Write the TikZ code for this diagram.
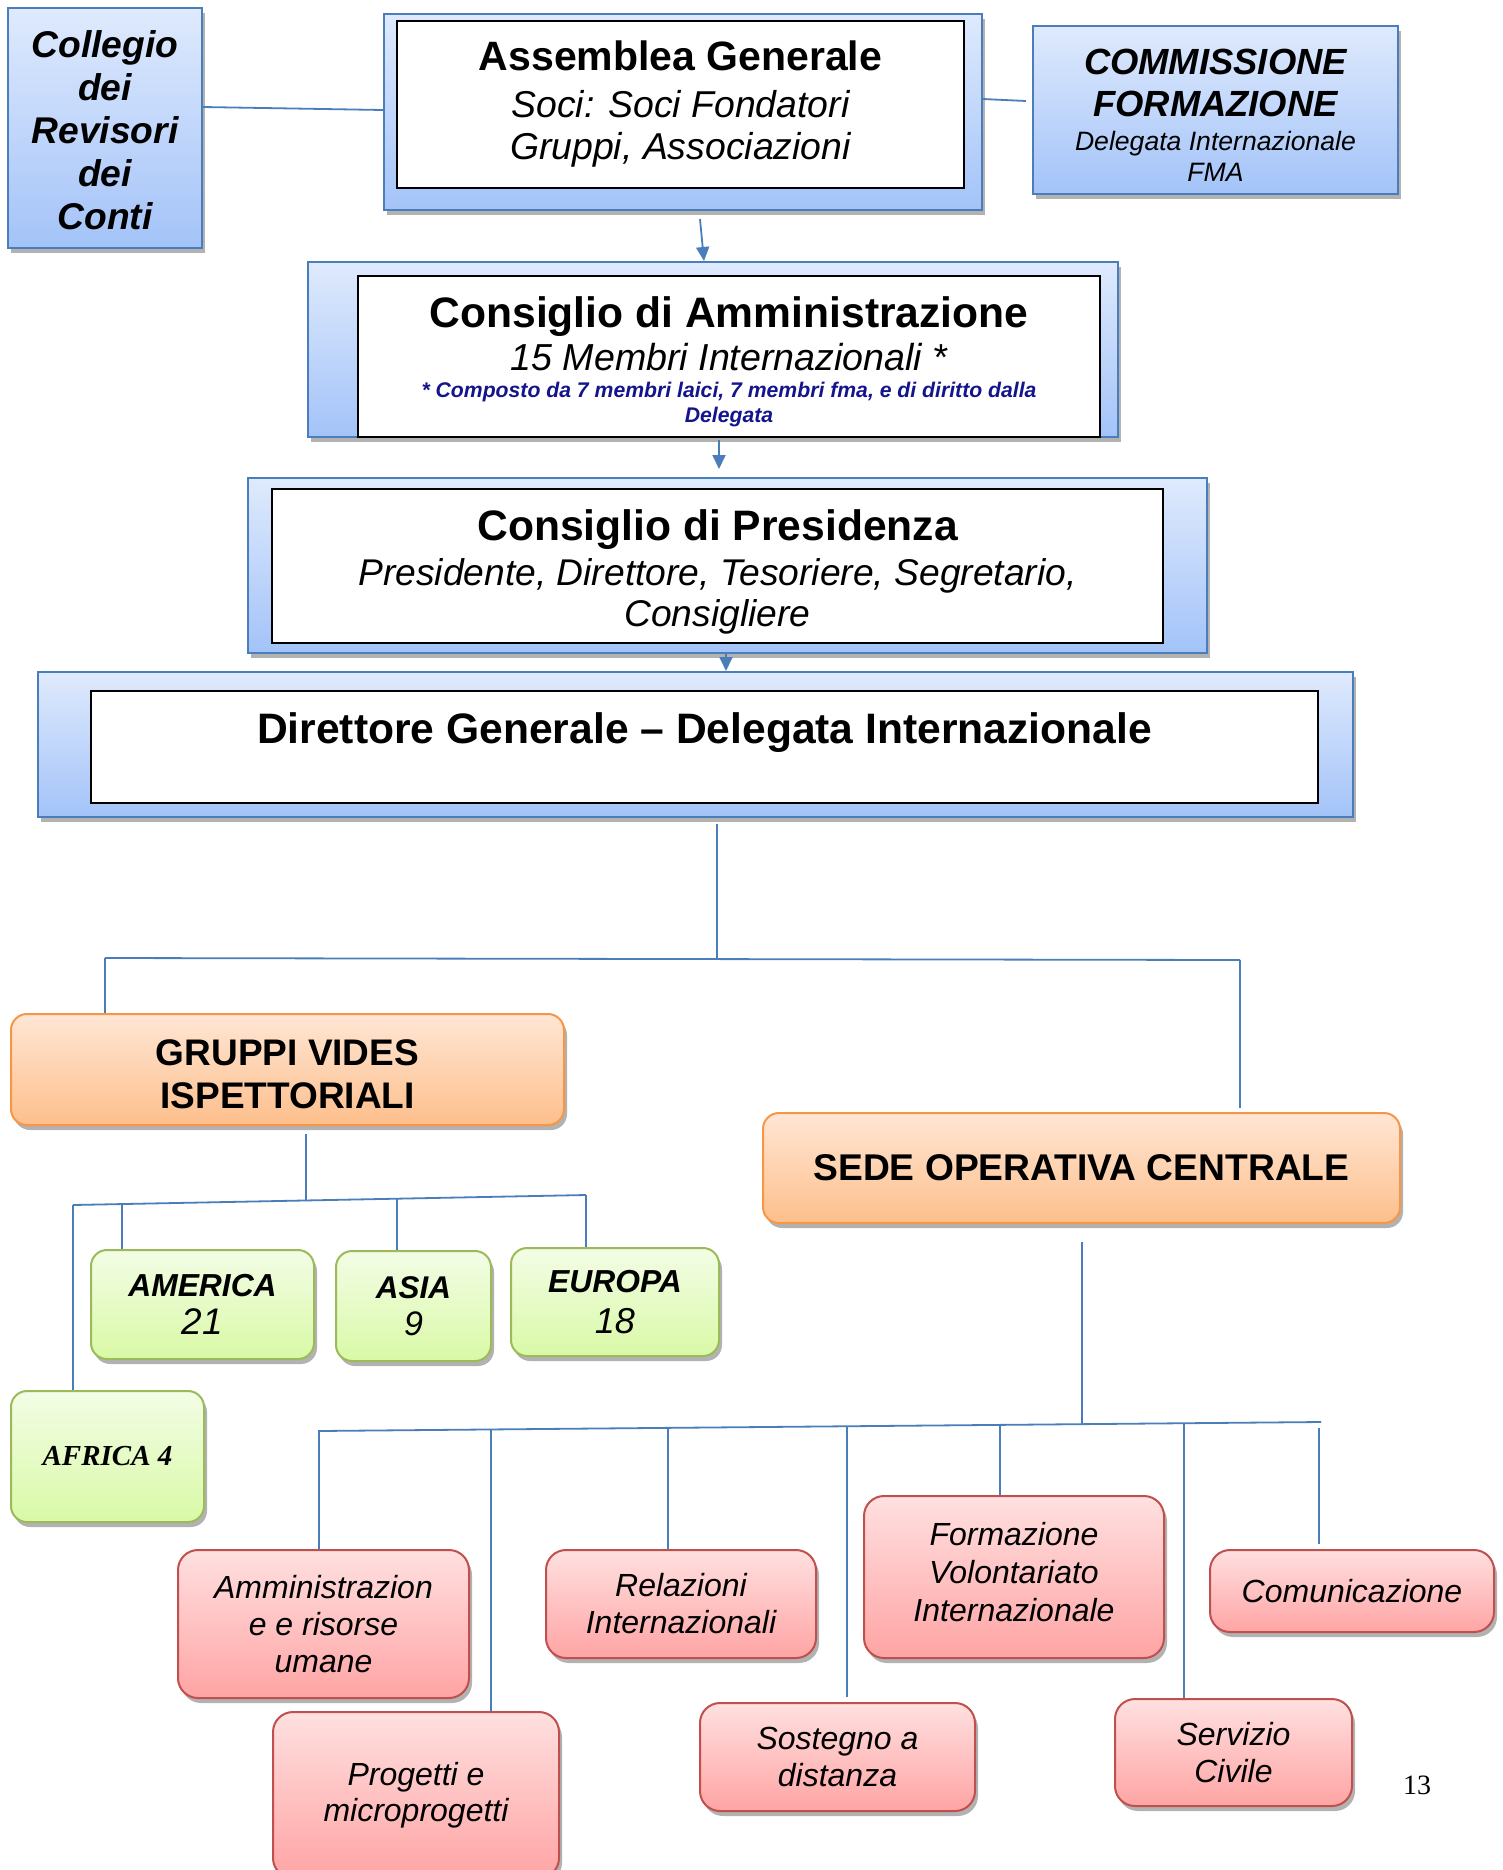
\documentclass[tikz,border=0pt]{standalone}
\usepackage{fontspec}
\setmainfont{Liberation Sans}
\newfontfamily\serifont{Liberation Serif}
\usetikzlibrary{arrows.meta,shadows}
\definecolor{cblue}{HTML}{4A7EBB}
\definecolor{btop}{HTML}{DFEAFD}
\definecolor{bbot}{HTML}{A3C3F8}
\definecolor{otop}{HTML}{FFE6D4}
\definecolor{obot}{HTML}{FDBF8C}
\definecolor{oborder}{HTML}{F79646}
\definecolor{gtop}{HTML}{F3FDE6}
\definecolor{gbot}{HTML}{D9F9A6}
\definecolor{gborder}{HTML}{9BBB59}
\definecolor{ptop}{HTML}{FFE0E0}
\definecolor{pbot}{HTML}{FFA4A4}
\definecolor{pborder}{HTML}{C0504D}
\definecolor{navyt}{HTML}{14148C}
\newcommand\fs[2]{\fontsize{#1}{#2}\selectfont}
\tikzset{
  shad/.style={drop shadow={shadow xshift=1.5pt,shadow yshift=-2.5pt,opacity=0.3,fill=black}},
  bluebox/.style={shad,draw=cblue,line width=1pt,top color=btop,bottom color=bbot,inner sep=0pt,align=center},
  whitebox/.style={draw=black,line width=1.3pt,fill=white,inner sep=0pt,align=center},
  obox/.style={shad,rounded corners=8pt,draw=oborder,line width=1pt,top color=otop,bottom color=obot,inner sep=0pt,align=center},
  gbox/.style={shad,rounded corners=8pt,draw=gborder,line width=1pt,top color=gtop,bottom color=gbot,inner sep=0pt,align=center},
  pbox/.style={shad,rounded corners=10pt,draw=pborder,line width=1pt,top color=ptop,bottom color=pbot,inner sep=0pt,align=center,font=\itshape\fs{16}{18.5}},
  txt/.style={inner sep=0pt,align=center},
  conn/.style={draw=cblue,line width=0.9pt},
  arr/.style={conn,-{Triangle[length=7pt,width=6.5pt]}},
}
\begin{document}
\begin{tikzpicture}[x=0.5pt,y=-0.5pt]
\fill[white] (0,0) rectangle (1503,1870);
\useasboundingbox (0,0) rectangle (1503,1870);

% top row
\node[bluebox,minimum width=97pt,minimum height=120pt] (coll) at (105,128) {};
\node[txt,font=\bfseries\itshape\fs{18.6}{21.5}] (colltext) at (105,130.5)
  {Collegio\\dei\\Revisori\\dei\\Conti};
\node[bluebox,minimum width=299pt,minimum height=98pt] (assout) at (683,112) {};
\node[whitebox,minimum width=283.5pt,minimum height=83.5pt,font=\itshape\fs{18.7}{21}] (ass) at (680.5,104.5)
  {{\upshape\bfseries\fs{20.5}{21}Assemblea Generale}\\[2.5pt]
   Soci: Soci Fondatori\\
   Gruppi, Associazioni};
\node[bluebox,minimum width=182.5pt,minimum height=84pt] (comm) at (1215.5,110) {};
\node[txt,font=\bfseries\itshape\fs{18.2}{20.5}] (commtext) at (1215.5,115)
  {COMMISSIONE\\[0.5pt]
   FORMAZIONE\\[-3.5pt]
   {\mdseries\fs{13.3}{15.5}Delegata Internazionale}\\[-5pt]
   {\mdseries\fs{13.3}{15.5}FMA}};

% consiglio di amministrazione
\node[bluebox,minimum width=405pt,minimum height=87.5pt] (cdaout) at (713,349.5) {};
\node[whitebox,minimum width=371pt,minimum height=80.5pt] (cda) at (729,356.5) {};
\node[txt,font=\itshape\fs{18.8}{23}] (cdatext) at (729,361.5)
  {{\upshape\bfseries\fs{21.3}{23}Consiglio di Amministrazione}\\[-1.4pt]
   15 Membri Internazionali *\\[-9.5pt]
   {\bfseries\color{navyt}\fs{10.6}{12.5}* Composto da 7 membri laici, 7 membri fma, e di diritto dalla}\\[-10.5pt]
   {\bfseries\color{navyt}\fs{10.6}{12.5}Delegata}};

% consiglio di presidenza
\node[bluebox,minimum width=479.5pt,minimum height=87.5pt] (cdpout) at (727.5,565.5) {};
\node[whitebox,minimum width=445.5pt,minimum height=77pt] (cdp) at (717.5,566) {};
\node[txt,font=\itshape\fs{18.6}{20.5}] (cdptext) at (717.5,572)
  {{\upshape\bfseries\fs{21.3}{20.5}Consiglio di Presidenza}\\[2.3pt]
   Presidente, Direttore, Tesoriere, Segretario,\\
   Consigliere};

% direttore generale
\node[bluebox,minimum width=657.5pt,minimum height=72.5pt] (dgout) at (695.5,744.5) {};
\node[whitebox,minimum width=613.5pt,minimum height=56pt] (dg) at (704.5,747) {};
\node[txt,font=\bfseries\fs{21.3}{25}] (dgtext) at (704.5,732.5) {Direttore Generale -- Delegata Internazionale};

% arrows
\draw[arr] ([xshift=8.5pt,yshift=-4pt]assout.south) -- ([xshift=-4.5pt]cdaout.north);
\coordinate (a2s) at ([xshift=3pt,yshift=-1pt]cdaout.south);
\draw[arr,shorten >=4pt] (a2s) -- (a2s |- cdpout.north);
\coordinate (a3s) at ([xshift=-0.75pt]cdpout.south);
\draw[arr] (a3s) -- (a3s |- dgout.north);

% side links
\draw[conn] ([yshift=10.5pt]coll.east) -- ([yshift=1pt]assout.west);
\draw[conn] ([yshift=6.5pt]assout.east) -- ([yshift=4.5pt,xshift=-3pt]comm.west);

% second level
\node[obox,minimum width=276.5pt,minimum height=55.5pt] (gruppi) at (287.5,1069.5) {};
\node[txt,font=\bfseries\fs{18.5}{21.5}] (gruppitext) at (287.5,1074.5)
  {GRUPPI VIDES\\ISPETTORIALI};
\node[obox,minimum width=318.5pt,minimum height=55pt,font=\bfseries\fs{18.6}{22}] (sede) at (1081.5,1168)
  {SEDE OPERATIVA CENTRALE};

\coordinate (t0) at (717,958);
\coordinate (tL) at (105,958);
\coordinate (tR) at (1240,960);
\draw[conn,shorten <=3pt] (t0 |- dgout.south) -- (t0);
\draw[conn] (tL) -- (tR);
\draw[conn] (tL) -- (tL |- gruppi.north);
\draw[conn,shorten >=2pt] (tR) -- (tR |- sede.north);

% continents
\node[gbox,minimum width=111.5pt,minimum height=54.5pt,font=\itshape\fs{18.5}{19}] (america) at (202.5,1304.5)
  {{\bfseries\fs{15.9}{19}AMERICA}\\21};
\node[gbox,minimum width=77.5pt,minimum height=55pt,font=\itshape\fs{17}{18.5}] (asia) at (413.5,1306)
  {{\bfseries\fs{15.7}{18.5}ASIA}\\9};
\node[gbox,minimum width=104pt,minimum height=54pt,font=\itshape\fs{18}{20.5}] (europa) at (615,1302)
  {{\bfseries\fs{15.9}{20.5}EUROPA}\\18};
\node[gbox,minimum width=96.5pt,minimum height=65.5pt,font=\serifont\bfseries\itshape\fs{14.5}{17}] (africa) at (107.5,1456.5)
  {AFRICA 4};

\coordinate (g0) at (306,1201);
\coordinate (gL) at (73,1205);
\coordinate (gR) at (586,1195);
\coordinate (gA) at (122,1204);
\coordinate (gS) at (397,1199);
\draw[conn,shorten <=4pt] (g0 |- gruppi.south) -- (g0);
\draw[conn] (gL) -- (gR);
\draw[conn] (gL) -- (gL |- africa.north);
\draw[conn] (gA) -- (gA |- america.north);
\draw[conn] (gS) -- (gS |- asia.north);
\draw[conn] (gR) -- (gR |- europa.north);

% sede operativa children
\node[pbox,minimum width=145.5pt,minimum height=74pt] (amm) at (323.5,1624)
  {Amministrazion\\e e risorse\\umane};
\node[pbox,minimum width=143pt,minimum height=83pt,font=\itshape\fs{16}{18}] (prog) at (416,1795)
  {Progetti e\\microprogetti};
\node[pbox,minimum width=135pt,minimum height=54pt] (rel) at (681,1604)
  {Relazioni\\Internazionali};
\node[pbox,minimum width=150pt,minimum height=81pt] (form) at (1014,1577) {};
\node[txt,font=\itshape\fs{16}{18.8}] (formtext) at (1014,1572)
  {Formazione\\Volontariato\\Internazionale};
\node[pbox,minimum width=142pt,minimum height=41pt] (com) at (1352,1591)
  {Comunicazione};
\node[pbox,minimum width=137.5pt,minimum height=54pt] (sost) at (837.5,1757)
  {Sostegno a\\distanza};
\node[pbox,minimum width=118.5pt,minimum height=53.5pt] (serv) at (1233.5,1752.5)
  {Servizio\\Civile};

\coordinate (s0) at (1082,1424);
\coordinate (sL) at (318,1431);
\coordinate (sR) at (1321,1422);
\coordinate (sAmm) at (319,1431);
\coordinate (sProg) at (491,1429.4);
\coordinate (sRel) at (668,1427.9);
\coordinate (sSost) at (847,1426.3);
\coordinate (sForm) at (1000,1424.9);
\coordinate (sServ) at (1184,1423.2);
\coordinate (sCom) at (1319,1428);
\draw[conn,shorten <=9pt] (s0 |- sede.south) -- (s0);
\draw[conn] (sL) -- (sR);
\draw[conn] (sAmm) -- (sAmm |- amm.north);
\draw[conn] (sProg) -- (sProg |- prog.north);
\draw[conn] (sRel) -- (sRel |- rel.north);
\draw[conn,shorten >=2.5pt] (sSost) -- (sSost |- sost.north);
\draw[conn] (sForm) -- (sForm |- form.north);
\draw[conn] (sServ) -- (sServ |- serv.north);
\draw[conn,shorten >=2.5pt] (sCom) -- (sCom |- com.north);

% page number
\node[font=\serifont\fs{14}{16},inner sep=0pt] (pnum) at (1417,1785) {13};
\end{tikzpicture}
\end{document}
